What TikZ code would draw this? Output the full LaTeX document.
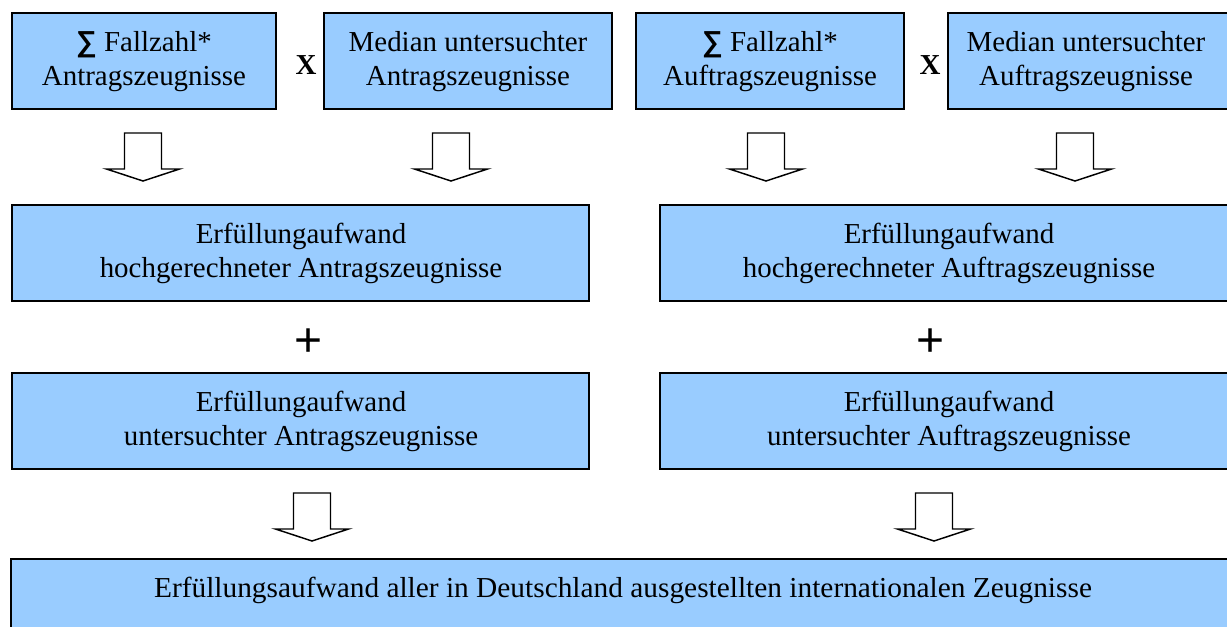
\documentclass[tikz,border=0pt]{standalone}
\usepackage{fontspec}
\setmainfont{Liberation Serif}
\newfontfamily\plusfont{Liberation Sans}
\usetikzlibrary{fit}
\definecolor{boxblue}{HTML}{99CCFF}
\newcommand{\sumsign}{{\plusfont\bfseries ∑}}
\begin{document}
\begin{tikzpicture}[x=0.75pt,y=-0.75pt,
  box/.style={draw=black, line width=1.5pt, fill=boxblue, inner sep=0pt},
  txt/.style={align=center, font=\fontsize{21.7}{25.5}\selectfont, inner sep=0pt},
  optxt/.style={font=\fontsize{21.7}{25}\selectfont\bfseries, inner sep=0pt},
  plustxt/.style={font=\plusfont\fontsize{36}{36}\selectfont, inner sep=0pt},
  arrowline/.style={draw=black, line width=1.1pt, fill=white, line join=miter},
  blockarrow/.pic={\path[arrowline] (-18.5,0) -- (-18.5,36) -- (-36.5,36) -- (0,48) -- (36.5,36) -- (18.5,36) -- (18.5,0) -- cycle;}
]
\useasboundingbox (0,0) rectangle (1227,626);
\clip (0,0) rectangle (1227,626);

% top row
\node[box, fit={(12,13) (276,109)}] (a1) {};
\node[box, fit={(324,13) (612,109)}] (a2) {};
\node[box, fit={(636,13) (904,109)}] (b1) {};
\node[box, fit={(948,13) (1250,109)}] (b2) {};
\node[txt] (ta1) at (144,62) {\sumsign\ Fallzahl*\\Antragszeugnisse};
\node[txt] (ta2) at (468,62) {Median untersuchter\\Antragszeugnisse};
\node[txt] (tb1) at (770,62) {\sumsign\ Fallzahl*\\Auftragszeugnisse};
\node[txt] (tb2) at (1086,62) {Median untersuchter\\Auftragszeugnisse};
\node[optxt] (xa) at (306,65) {X};
\node[optxt] (xb) at (930,65) {X};

% arrows
\pic at (143,133) {blockarrow};
\pic at (451,133) {blockarrow};
\pic at (766,133) {blockarrow};
\pic at (1075,133) {blockarrow};

% second row
\node[box, fit={(12,205) (589,301)}] (a3) {};
\node[box, fit={(660,205) (1250,301)}] (b3) {};
\node[txt] (ta3) at (301,253) {Erfüllungaufwand\\hochgerechneter Antragszeugnisse};
\node[txt] (tb3) at (949,253) {Erfüllungaufwand\\hochgerechneter Auftragszeugnisse};

\node[plustxt] (pa) at (309,343) {+};
\node[plustxt] (pb) at (931,343) {+};

% third row
\node[box, fit={(12,373) (589,469)}] (a4) {};
\node[box, fit={(660,373) (1250,469)}] (b4) {};
\node[txt] (ta4) at (301,421) {Erfüllungaufwand\\untersuchter Antragszeugnisse};
\node[txt] (tb4) at (949,421) {Erfüllungaufwand\\untersuchter Auftragszeugnisse};

\pic at (312,493) {blockarrow};
\pic at (934,493) {blockarrow};

% bottom
\node[box, fit={(11,559) (1250,650)}] (c) {};
\node[txt, xscale=1.015] (tc) at (623,590) {Erfüllungsaufwand aller in Deutschland ausgestellten internationalen Zeugnisse};
\end{tikzpicture}
\end{document}
